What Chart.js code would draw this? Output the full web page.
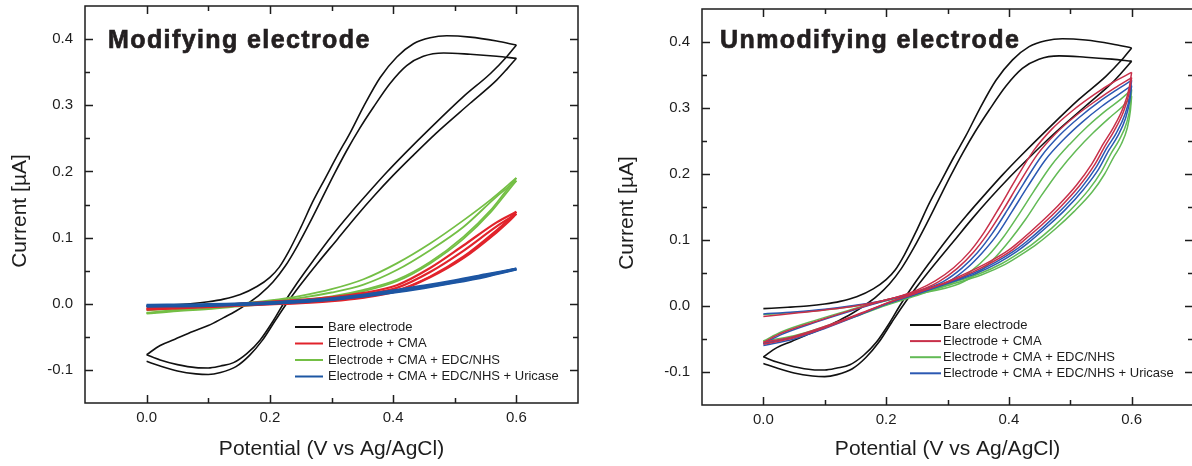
<!DOCTYPE html>
<html>
<head>
<meta charset="utf-8">
<script src="https://cdn.jsdelivr.net/npm/chart.js@4.4.1/dist/chart.umd.min.js"></script>
<style>
  html, body { margin: 0; padding: 0; background: #fff; overflow: hidden; width: 1192px; height: 466px; }
  canvas { position: absolute; top: 0; }
  #modified { left: 0; }
  #unmodified { left: 596px; }
</style>
</head>
<body>
<canvas id="modified" width="596" height="466"></canvas>
<canvas id="unmodified" width="604" height="466"></canvas>
<script>
// Cyclic voltammograms, two scans per electrode, each scan split into
// forward (anodic) and reverse (cathodic) branches. Points are [V, µA].

const seriesNames = ['Bare electrode', 'Electrode + CMA', 'Electrode + CMA + EDC/NHS', 'Electrode + CMA + EDC/NHS + Uricase'];
const xTickVals = [0.0, 0.2, 0.4, 0.6];
const xMinorVals = [0.1, 0.3, 0.5];
const yTickVals = [-0.1, 0.0, 0.1, 0.2, 0.3, 0.4];
const yMinorVals = [-0.05, 0.05, 0.15, 0.25, 0.35];

// bare electrode (same in both panels)
const bareFwd1 = [[0, -0.004], [0.04, -0.002], [0.071, 0.0], [0.1, 0.003], [0.125, 0.007], [0.152, 0.014], [0.179, 0.026], [0.2, 0.04], [0.215, 0.055], [0.23, 0.078], [0.25, 0.115], [0.27, 0.155], [0.29, 0.19], [0.31, 0.225], [0.33, 0.258], [0.352, 0.298], [0.379, 0.342], [0.406, 0.373], [0.433, 0.393], [0.46, 0.402], [0.487, 0.405], [0.525, 0.403], [0.568, 0.397], [0.6, 0.391]];
const bareRev1 = [[0.6, 0.391], [0.584, 0.373], [0.558, 0.348], [0.514, 0.313], [0.46, 0.265], [0.42, 0.228], [0.39, 0.199], [0.36, 0.168], [0.33, 0.136], [0.3, 0.102], [0.271, 0.066], [0.244, 0.031], [0.222, 0.0], [0.206, -0.025], [0.184, -0.055], [0.163, -0.075], [0.141, -0.089], [0.12, -0.094], [0.1, -0.097], [0.08, -0.0965], [0.05, -0.092], [0.022, -0.085], [0, -0.077]];
const bareFwd2 = [[0, -0.077], [0.022, -0.063], [0.045, -0.054], [0.075, -0.042], [0.1, -0.033], [0.125, -0.021], [0.145, -0.011], [0.165, 0.001], [0.185, 0.015], [0.205, 0.033], [0.225, 0.057], [0.245, 0.088], [0.265, 0.123], [0.285, 0.16], [0.305, 0.197], [0.325, 0.232], [0.345, 0.264], [0.368, 0.297], [0.395, 0.333], [0.422, 0.36], [0.449, 0.374], [0.482, 0.379], [0.525, 0.377], [0.568, 0.374], [0.6, 0.371]];
const bareRev2 = [[0.6, 0.371], [0.585, 0.355], [0.568, 0.338], [0.525, 0.303], [0.47, 0.258], [0.43, 0.222], [0.4, 0.194], [0.37, 0.164], [0.34, 0.132], [0.31, 0.098], [0.278, 0.062], [0.25, 0.029], [0.227, 0.0], [0.209, -0.025], [0.188, -0.055], [0.167, -0.078], [0.145, -0.095], [0.12, -0.104], [0.1, -0.107], [0.08, -0.106], [0.05, -0.1015], [0.022, -0.094], [0, -0.087]];

// modified electrode: + CMA
const modCmaFwd1 = [[0, -0.006], [0.05, -0.004], [0.1, -0.002], [0.15, 0.0], [0.2, 0.003], [0.25, 0.006], [0.3, 0.01], [0.35, 0.016], [0.406, 0.028], [0.46, 0.054], [0.514, 0.088], [0.568, 0.123], [0.6, 0.139]];
const modCmaRev1 = [[0.6, 0.139], [0.585, 0.125], [0.568, 0.111], [0.514, 0.071], [0.46, 0.041], [0.406, 0.02], [0.35, 0.01], [0.3, 0.005], [0.25, 0.002], [0.2, 0.0], [0.15, -0.002], [0.1, -0.004], [0.05, -0.006], [0, -0.008]];
const modCmaFwd2 = [[0, -0.008], [0.05, -0.005], [0.1, -0.003], [0.15, -0.001], [0.2, 0.002], [0.25, 0.005], [0.3, 0.009], [0.35, 0.014], [0.406, 0.024], [0.46, 0.048], [0.514, 0.08], [0.568, 0.117], [0.6, 0.136]];
const modCmaRev2 = [[0.6, 0.136], [0.585, 0.122], [0.568, 0.108], [0.514, 0.069], [0.46, 0.04], [0.406, 0.019], [0.35, 0.009], [0.3, 0.004], [0.25, 0.001], [0.2, -0.001], [0.15, -0.003], [0.1, -0.005], [0.05, -0.007], [0, -0.009]];

// modified electrode: + CMA + EDC/NHS
const modEdcFwd1 = [[0, -0.01], [0.05, -0.007], [0.1, -0.004], [0.15, 0.0], [0.2, 0.005], [0.25, 0.012], [0.3, 0.022], [0.352, 0.037], [0.406, 0.061], [0.46, 0.091], [0.514, 0.126], [0.558, 0.157], [0.6, 0.19]];
const modEdcRev1 = [[0.6, 0.19], [0.582, 0.169], [0.558, 0.141], [0.514, 0.101], [0.46, 0.063], [0.406, 0.036], [0.352, 0.021], [0.3, 0.011], [0.25, 0.005], [0.2, 0.001], [0.15, -0.003], [0.1, -0.007], [0.05, -0.01], [0, -0.014]];
const modEdcFwd2 = [[0, -0.014], [0.05, -0.009], [0.1, -0.005], [0.15, -0.001], [0.2, 0.004], [0.25, 0.009], [0.3, 0.017], [0.352, 0.029], [0.406, 0.051], [0.46, 0.081], [0.514, 0.116], [0.568, 0.162], [0.6, 0.186]];
const modEdcRev2 = [[0.6, 0.186], [0.58, 0.163], [0.558, 0.138], [0.514, 0.098], [0.46, 0.061], [0.406, 0.034], [0.352, 0.019], [0.3, 0.01], [0.25, 0.004], [0.2, 0.0], [0.15, -0.004], [0.1, -0.008], [0.05, -0.011], [0, -0.015]];

// modified electrode: + CMA + EDC/NHS + uricase
const modUriFwd1 = [[0, -0.002], [0.1, -0.001], [0.2, 0.002], [0.3, 0.008], [0.35, 0.013], [0.4, 0.02], [0.45, 0.027], [0.5, 0.035], [0.55, 0.044], [0.6, 0.053]];
const modUriRev1 = [[0.6, 0.053], [0.55, 0.042], [0.5, 0.033], [0.45, 0.025], [0.4, 0.018], [0.35, 0.012], [0.3, 0.007], [0.2, 0.001], [0.1, -0.002], [0, -0.003]];
const modUriFwd2 = [[0, -0.003], [0.1, -0.002], [0.2, 0.001], [0.3, 0.007], [0.35, 0.012], [0.4, 0.019], [0.45, 0.026], [0.5, 0.034], [0.55, 0.043], [0.6, 0.052]];
const modUriRev2 = [[0.6, 0.052], [0.55, 0.041], [0.5, 0.032], [0.45, 0.024], [0.4, 0.017], [0.35, 0.011], [0.3, 0.006], [0.2, 0.0], [0.1, -0.003], [0, -0.004]];

// unmodified electrode: + CMA
const unCmaFwd1 = [[0, -0.016], [0.05, -0.011], [0.1, -0.006], [0.15, 0.0], [0.2, 0.009], [0.25, 0.024], [0.28, 0.038], [0.31, 0.058], [0.336, 0.082], [0.36, 0.112], [0.385, 0.15], [0.41, 0.19], [0.44, 0.235], [0.47, 0.268], [0.505, 0.297], [0.54, 0.321], [0.57, 0.339], [0.6, 0.354]];
const unCmaRev1 = [[0.6, 0.354], [0.596, 0.33], [0.586, 0.3], [0.57, 0.27], [0.554, 0.246], [0.535, 0.215], [0.51, 0.183], [0.48, 0.152], [0.45, 0.125], [0.42, 0.1], [0.4, 0.085], [0.37, 0.068], [0.336, 0.052], [0.3, 0.037], [0.25, 0.02], [0.2, 0.004], [0.15, -0.014], [0.1, -0.031], [0.05, -0.046], [0, -0.055]];
const unCmaFwd2 = [[0, -0.055], [0.03, -0.041], [0.087, -0.023], [0.141, -0.007], [0.195, 0.008], [0.25, 0.022], [0.286, 0.037], [0.316, 0.057], [0.342, 0.081], [0.366, 0.11], [0.391, 0.146], [0.416, 0.185], [0.446, 0.229], [0.476, 0.261], [0.51, 0.289], [0.545, 0.313], [0.572, 0.33], [0.6, 0.346]];
const unCmaRev2 = [[0.6, 0.346], [0.596, 0.323], [0.587, 0.295], [0.572, 0.266], [0.557, 0.243], [0.539, 0.213], [0.514, 0.181], [0.484, 0.15], [0.454, 0.123], [0.424, 0.099], [0.404, 0.084], [0.374, 0.067], [0.34, 0.051], [0.3, 0.036], [0.25, 0.02], [0.2, 0.004], [0.15, -0.015], [0.1, -0.033], [0.05, -0.048], [0, -0.058]];

// unmodified electrode: + CMA + EDC/NHS
const unEdcFwd1 = [[0, -0.013], [0.05, -0.01], [0.1, -0.006], [0.15, 0.0], [0.2, 0.008], [0.25, 0.02], [0.31, 0.036], [0.34, 0.054], [0.366, 0.076], [0.39, 0.103], [0.415, 0.137], [0.44, 0.173], [0.47, 0.214], [0.5, 0.246], [0.528, 0.272], [0.558, 0.296], [0.582, 0.313], [0.6, 0.328]];
const unEdcRev1 = [[0.6, 0.328], [0.598, 0.305], [0.592, 0.278], [0.58, 0.252], [0.567, 0.232], [0.551, 0.204], [0.53, 0.176], [0.5, 0.145], [0.47, 0.118], [0.44, 0.095], [0.418, 0.081], [0.388, 0.064], [0.35, 0.048], [0.3, 0.033], [0.25, 0.017], [0.2, 0.002], [0.15, -0.015], [0.1, -0.031], [0.05, -0.045], [0, -0.053]];
const unEdcFwd2 = [[0, -0.053], [0.03, -0.039], [0.087, -0.021], [0.141, -0.006], [0.195, 0.008], [0.25, 0.018], [0.32, 0.034], [0.352, 0.052], [0.378, 0.074], [0.402, 0.1], [0.427, 0.131], [0.452, 0.166], [0.482, 0.205], [0.51, 0.236], [0.537, 0.262], [0.565, 0.286], [0.586, 0.303], [0.6, 0.318]];
const unEdcRev2 = [[0.6, 0.318], [0.598, 0.296], [0.593, 0.27], [0.583, 0.245], [0.571, 0.226], [0.556, 0.2], [0.536, 0.173], [0.506, 0.143], [0.476, 0.117], [0.446, 0.094], [0.424, 0.08], [0.394, 0.063], [0.355, 0.047], [0.3, 0.031], [0.25, 0.016], [0.2, 0.001], [0.15, -0.016], [0.1, -0.032], [0.05, -0.047], [0, -0.056]];

// unmodified electrode: + CMA + EDC/NHS + uricase
const unUriFwd1 = [[0, -0.012], [0.05, -0.009], [0.1, -0.005], [0.15, 0.001], [0.2, 0.009], [0.25, 0.022], [0.293, 0.037], [0.323, 0.057], [0.349, 0.081], [0.373, 0.11], [0.398, 0.146], [0.423, 0.184], [0.453, 0.227], [0.483, 0.259], [0.515, 0.286], [0.548, 0.31], [0.575, 0.327], [0.6, 0.342]];
const unUriRev1 = [[0.6, 0.342], [0.597, 0.318], [0.589, 0.29], [0.575, 0.262], [0.56, 0.24], [0.542, 0.21], [0.518, 0.179], [0.488, 0.148], [0.458, 0.121], [0.428, 0.097], [0.408, 0.083], [0.378, 0.066], [0.343, 0.05], [0.3, 0.035], [0.25, 0.019], [0.2, 0.003], [0.15, -0.015], [0.1, -0.032], [0.05, -0.047], [0, -0.057]];
const unUriFwd2 = [[0, -0.057], [0.03, -0.043], [0.087, -0.024], [0.141, -0.008], [0.195, 0.007], [0.25, 0.02], [0.3, 0.036], [0.33, 0.056], [0.356, 0.08], [0.38, 0.107], [0.405, 0.143], [0.43, 0.18], [0.46, 0.222], [0.49, 0.253], [0.52, 0.279], [0.552, 0.303], [0.578, 0.32], [0.6, 0.334]];
const unUriRev2 = [[0.6, 0.334], [0.597, 0.311], [0.59, 0.284], [0.577, 0.257], [0.563, 0.236], [0.546, 0.207], [0.522, 0.177], [0.492, 0.146], [0.462, 0.12], [0.432, 0.096], [0.412, 0.082], [0.382, 0.065], [0.346, 0.049], [0.3, 0.034], [0.25, 0.018], [0.2, 0.003], [0.15, -0.016], [0.1, -0.034], [0.05, -0.05], [0, -0.06]];

const FONT = '"Liberation Sans", Arial, sans-serif';
const INK = '#1d1d1d';
Chart.defaults.font.family = FONT;
Chart.defaults.color = INK;

function branch(points, color, width, order) {
    return {
        data: points.map(([x, y]) => ({ x, y })),
        borderColor: color,
        borderWidth: width,
        pointRadius: 0,
        showLine: true,
        fill: false,
        cubicInterpolationMode: 'monotone',
        order
    };
}

function cycles(scans, color, width, order) {
    return scans.map(s => branch(s, color, width, order));
}

// frame with inward major/minor ticks, y title, panel heading and an in-plot legend
const cvDecor = {
    id: 'cvDecor',
    afterDatasetsDraw(chart, args, opts) {
        const { ctx, chartArea: a, scales: { x, y } } = chart;
        ctx.save();
        ctx.strokeStyle = INK;
        ctx.lineWidth = 1.5;
        ctx.strokeRect(a.left, a.top, a.right - a.left, a.bottom - a.top);

        const tick = (vals, len) => {
            vals.forEach(v => {
                const px = Math.round(x.getPixelForValue(v)) + 0.5;
                ctx.moveTo(px, a.bottom); ctx.lineTo(px, a.bottom - len);
                ctx.moveTo(px, a.top); ctx.lineTo(px, a.top + len);
            });
        };
        const tickY = (vals, len) => {
            vals.forEach(v => {
                const py = Math.round(y.getPixelForValue(v)) + 0.5;
                ctx.moveTo(a.left, py); ctx.lineTo(a.left + len, py);
                ctx.moveTo(a.right, py); ctx.lineTo(a.right - len, py);
            });
        };
        ctx.beginPath();
        tick(xTickVals, 8); tick(xMinorVals, 5);
        tickY(yTickVals, 8); tickY(yMinorVals, 5);
        ctx.stroke();

        // rotated y title
        ctx.save();
        ctx.translate(opts.yTitleX, opts.yTitleY);
        ctx.rotate(-Math.PI / 2);
        ctx.fillStyle = INK;
        ctx.font = '21px ' + FONT;
        ctx.textAlign = 'center';
        ctx.textBaseline = 'middle';
        ctx.fillText('Current [\u00b5A]', 0, 0);
        ctx.restore();

        // heading, slightly stroked to get the heavy look
        ctx.fillStyle = '#231f20';
        ctx.strokeStyle = '#231f20';
        ctx.lineWidth = 0.7;
        ctx.font = 'bold 25px ' + FONT;
        ctx.letterSpacing = '1.4px';
        ctx.textBaseline = 'alphabetic';
        ctx.fillText(opts.heading, opts.headingX, opts.headingY);
        ctx.strokeText(opts.heading, opts.headingX, opts.headingY);
        ctx.letterSpacing = '0px';

        // legend
        const lg = opts.legend;
        ctx.font = '13px ' + FONT;
        ctx.textBaseline = 'middle';
        seriesNames.forEach((name, i) => {
            const ly = lg.y + i * lg.gap;
            ctx.beginPath();
            ctx.strokeStyle = opts.colors[i];
            ctx.lineWidth = 2;
            ctx.moveTo(lg.x, ly); ctx.lineTo(lg.x + lg.len, ly);
            ctx.stroke();
            ctx.fillStyle = INK;
            ctx.fillText(name, lg.x + lg.len + lg.textGap, ly);
        });
        ctx.restore();
    }
};

function makeChart(canvasId, datasets, box, decor) {
    return new Chart(document.getElementById(canvasId), {
        type: 'scatter',
        data: { datasets },
        plugins: [cvDecor],
        options: {
            responsive: false,
            animation: false,
            events: [],
            layout: { padding: { top: box.top, right: box.right, left: 0, bottom: 0 } },
            plugins: {
                legend: { display: false },
                tooltip: { enabled: false },
                cvDecor: decor
            },
            scales: {
                x: {
                    type: 'linear',
                    min: -0.1,
                    max: 0.7,
                    afterBuildTicks: axis => { axis.ticks = xTickVals.map(v => ({ value: v })); },
                    afterFit: scale => { scale.height = box.xHeight; scale.paddingLeft = 0; scale.paddingRight = 0; },
                    grid: { display: false, drawTicks: false },
                    border: { display: false },
                    ticks: { padding: 6, font: { size: 15 }, color: INK, callback: v => v.toFixed(1) },
                    title: { display: true, text: 'Potential (V vs Ag/AgCl)', font: { size: 21 }, color: INK, padding: { top: 0, bottom: 4 } }
                },
                y: {
                    type: 'linear',
                    min: -0.15,
                    max: 0.45,
                    afterBuildTicks: axis => { axis.ticks = yTickVals.map(v => ({ value: v })); },
                    // keep the plot box where it is; labels sit well inside the range anyway
                    afterFit: scale => { scale.width = box.yWidth; scale.paddingTop = 0; scale.paddingBottom = 0; },
                    grid: { display: false, drawTicks: false },
                    border: { display: false },
                    ticks: { padding: 12, font: { size: 15 }, color: INK, callback: v => v.toFixed(1) }
                }
            }
        }
    });
}

const bareScans = [bareFwd1, bareRev1, bareFwd2, bareRev2];

const modColors = ['#111111', '#e1232b', '#74bf45', '#1d56a3'];
makeChart('modified', [
    ...cycles([modUriFwd1, modUriRev1, modUriFwd2, modUriRev2], modColors[3], 2.6, 1),
    ...cycles([modCmaFwd1, modCmaRev1, modCmaFwd2, modCmaRev2], modColors[1], 2.2, 2),
    ...cycles([modEdcFwd1, modEdcRev1, modEdcFwd2, modEdcRev2], modColors[2], 1.8, 3),
    ...cycles(bareScans, modColors[0], 1.6, 4)
], { top: 6, right: 18, yWidth: 85, xHeight: 63 }, {
    heading: 'Modifying electrode', headingX: 108, headingY: 48,
    yTitleX: 20, yTitleY: 211,
    colors: modColors,
    legend: { x: 295, y: 327, gap: 16.5, len: 28, textGap: 5 }
});

const unColors = ['#111111', '#c8304a', '#62ba55', '#2b58b2'];
makeChart('unmodified', [
    ...cycles([unCmaFwd1, unCmaRev1, unCmaFwd2, unCmaRev2], unColors[1], 1.5, 1),
    ...cycles([unUriFwd1, unUriRev1, unUriFwd2, unUriRev2], unColors[3], 1.5, 2),
    ...cycles([unEdcFwd1, unEdcRev1, unEdcFwd2, unEdcRev2], unColors[2], 1.5, 3),
    ...cycles(bareScans, unColors[0], 1.6, 4)
], { top: 9, right: 7, yWidth: 106, xHeight: 61 }, {
    heading: 'Unmodifying electrode', headingX: 124, headingY: 48,
    yTitleX: 31, yTitleY: 213,
    colors: unColors,
    legend: { x: 314, y: 325, gap: 16.1, len: 31, textGap: 2 }
});
</script>
</body>
</html>
